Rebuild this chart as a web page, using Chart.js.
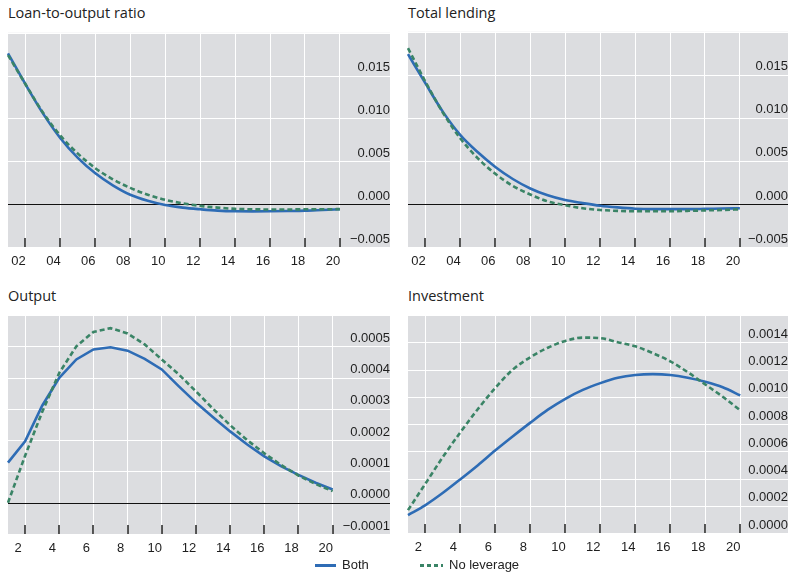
<!DOCTYPE html>
<html>
<head>
<meta charset="utf-8">
<script src="https://cdn.jsdelivr.net/npm/chart.js@4.4.1/dist/chart.umd.min.js"></script>
<style>
  html, body { margin: 0; padding: 0; background: #ffffff; }
  body { width: 789px; height: 575px; overflow: hidden; position: relative; font-family: "Liberation Sans", Arial, sans-serif; }
  .title { position: absolute; font-family: "Open Sans", sans-serif; font-size: 14.5px; line-height: 18px; color: #222; white-space: nowrap; }
  .box { position: absolute; }
  canvas { display: block; }
  .leg { position: absolute; font-size: 13px; line-height: 16px; color: #222; white-space: nowrap; display: flex; align-items: center; }
  .sw { display: inline-block; width: 21px; height: 3px; margin-right: 6px; }
  .sw.solid { background: #2e6cb5; }
  .sw.dash { width: 23px; background: repeating-linear-gradient(90deg, #3a8466 0 4px, transparent 4px 7px); }
</style>
</head>
<body>
<div class="title" style="left:8px;top:4px">Loan-to-output ratio</div>
<div class="title" style="left:408px;top:4px">Total lending</div>
<div class="title" style="left:8px;top:287px">Output</div>
<div class="title" style="left:408px;top:287px">Investment</div>

<div class="box" style="left:0;top:20px"><canvas id="c1" width="392" height="260"></canvas></div>
<div class="box" style="left:400px;top:20px"><canvas id="c2" width="389" height="260"></canvas></div>
<div class="box" style="left:0;top:300px"><canvas id="c3" width="392" height="262"></canvas></div>
<div class="box" style="left:400px;top:300px"><canvas id="c4" width="389" height="262"></canvas></div>

<div class="leg" style="left:315px;top:557px"><span class="sw solid"></span>Both</div>
<div class="leg" style="left:420px;top:557px"><span class="sw dash"></span>No leverage</div>

<script>
// ---------- data ----------
const periods = [1,2,3,4,5,6,7,8,9,10,11,12,13,14,15,16,17,18,19,20];
const topTickLabels = ['02','04','06','08','10','12','14','16','18','20'];
const bottomTickLabels = ['2','4','6','8','10','12','14','16','18','20'];

const loanBoth = [0.0176,0.0140,0.0106,0.0077,0.0054,0.0036,0.0022,0.0011,0.0004,-0.0001,-0.0004,-0.0006,-0.00076,-0.00083,-0.00084,-0.00083,-0.0008,-0.00076,-0.00068,-0.0006];
const loanNoLev = [0.0174,0.0140,0.0107,0.0080,0.0059,0.0042,0.0029,0.0019,0.0011,0.0005,0.0001,-0.0002,-0.0004,-0.00055,-0.0006,-0.00062,-0.00062,-0.0006,-0.0006,-0.00058];

const lendBoth = [0.0174,0.0140,0.0107,0.0080,0.0060,0.0043,0.0029,0.0018,0.0010,0.00045,0.0001,-0.0002,-0.0004,-0.00055,-0.0006,-0.0006,-0.0006,-0.00057,-0.00053,-0.0005];
const lendNoLev = [0.0181,0.0142,0.0106,0.0076,0.0053,0.0035,0.0021,0.0011,0.0003,-0.00015,-0.0005,-0.0007,-0.0008,-0.00085,-0.00085,-0.00085,-0.0008,-0.00075,-0.0007,-0.00062];

const outBoth = [0.000128,0.000196,0.00031,0.000399,0.000458,0.00049,0.000497,0.000486,0.00046,0.000426,0.000372,0.00032,0.000273,0.000228,0.000186,0.000148,0.000116,0.000089,0.000064,0.000042];
const outNoLev = [0.0,0.00015,0.00029,0.000415,0.0005,0.000546,0.000558,0.000541,0.000506,0.000458,0.00041,0.000356,0.0003,0.000248,0.0002,0.000158,0.00012,0.000087,0.00006,0.000037];

const invBoth = [0.000132,0.000205,0.000295,0.000395,0.000498,0.000607,0.00071,0.00081,0.000905,0.000985,0.00105,0.0011,0.00114,0.00116,0.001166,0.00116,0.00114,0.00111,0.00107,0.00101];
const invNoLev = [0.000168,0.000363,0.000559,0.00074,0.00091,0.001066,0.0012,0.00129,0.00136,0.00141,0.001434,0.00143,0.0014,0.00137,0.00132,0.00126,0.00118,0.00109,0.001,0.0009];

// ---------- style ----------
const BLUE = '#2e6cb5';
const GREEN = '#3a8466';
const BG = '#dcdde0';
const TICK_FONT = { family: 'Arial, "Liberation Sans", sans-serif', size: 13 };

const panelPlugin = {
  id: 'panelPlugin',
  beforeDraw(chart) {
    const { ctx, chartArea, scales } = chart;
    const y = scales.y;
    const right = y.right;
    ctx.save();
    ctx.fillStyle = BG;
    ctx.fillRect(chartArea.left, chartArea.top, right - chartArea.left, chartArea.bottom - chartArea.top);
    ctx.strokeStyle = '#ffffff';
    ctx.lineWidth = 1;
    y.ticks.forEach(t => {
      const py = Math.round(y.getPixelForValue(t.value)) + 0.5;
      ctx.beginPath();
      ctx.moveTo(chartArea.left, py);
      ctx.lineTo(right, py);
      ctx.stroke();
    });
    ctx.restore();
  },
  beforeDatasetsDraw(chart) {
    const { ctx, chartArea, scales } = chart;
    const x = scales.x, y = scales.y;
    ctx.save();
    if (y.min < 0) {
      const py = Math.round(y.getPixelForValue(0)) + 0.5;
      ctx.strokeStyle = '#111111';
      ctx.lineWidth = 1;
      ctx.beginPath();
      ctx.moveTo(chartArea.left, py);
      ctx.lineTo(y.right, py);
      ctx.stroke();
    }
    ctx.strokeStyle = '#222222';
    ctx.lineWidth = 1.5;
    for (let i = 1; i < x.ticks.length; i += 2) {
      const px = Math.round(x.getPixelForTick(i));
      ctx.beginPath();
      ctx.moveTo(px, chartArea.bottom);
      ctx.lineTo(px, chartArea.bottom - 9);
      ctx.stroke();
    }
    ctx.restore();
  }
};

function fmt(v, dec) {
  if (Math.abs(v) < 1e-12) v = 0;
  return v.toFixed(dec).replace('-', '\u2212');
}

function makeChart(id, both, noLev, tickLabels, yMin, yMax, yStep, dec, pad, xAxisH, yPad, smooth) {
  const interp = smooth ? { cubicInterpolationMode: 'monotone' } : { tension: 0 };
  new Chart(document.getElementById(id), {
    type: 'line',
    data: {
      labels: periods,
      datasets: [
        Object.assign({ label: 'Both', data: both, borderColor: BLUE, borderWidth: 2.6, pointRadius: 0, fill: false, order: 2 }, interp),
        Object.assign({ label: 'No leverage', data: noLev, borderColor: GREEN, borderWidth: 2.6, borderDash: [5, 3], pointRadius: 0, fill: false, order: 1 }, interp)
      ]
    },
    options: {
      responsive: false,
      animation: false,
      devicePixelRatio: 1,
      layout: { padding: pad },
      plugins: { legend: { display: false }, tooltip: { enabled: false }, title: { display: false } },
      scales: {
        x: {
          type: 'category',
          border: { display: false },
          grid: {
            color: ctx => (ctx.index % 2 === 1 ? '#ffffff' : 'rgba(0,0,0,0)'),
            lineWidth: 1,
            drawTicks: false
          },
          ticks: {
            autoSkip: false,
            maxRotation: 0,
            minRotation: 0,
            padding: 7,
            labelOffset: -7,
            color: '#1e1e1e',
            font: TICK_FONT,
            callback: (value, index) => (index % 2 === 1 ? tickLabels[(index - 1) / 2] : '')
          },
          afterFit: s => { s.height = xAxisH; }
        },
        y: {
          position: 'right',
          min: yMin,
          max: yMax,
          border: { display: false },
          grid: { display: false, drawTicks: false },
          ticks: {
            stepSize: yStep,
            crossAlign: 'far',
            padding: yPad,
            labelOffset: -8,
            color: '#1e1e1e',
            font: TICK_FONT,
            callback: v => (v >= yMax - yStep * 0.01 ? '' : fmt(v, dec))
          }
        }
      }
    },
    plugins: [panelPlugin]
  });
}

makeChart('c1', loanBoth, loanNoLev, topTickLabels, -0.005, 0.020, 0.005, 3, { left: 8, top: 9, right: 2, bottom: 0 }, 33, 5, true);
makeChart('c2', lendBoth, lendNoLev, topTickLabels, -0.005, 0.020, 0.005, 3, { left: 8, top: 9, right: 1, bottom: 0 }, 33, 4, true);
makeChart('c3', outBoth, outNoLev, bottomTickLabels, -0.0001, 0.0006, 0.0001, 4, { left: 8, top: 15, right: 2, bottom: 0 }, 28, 5, false);
makeChart('c4', invBoth, invNoLev, bottomTickLabels, 0, 0.0016, 0.0002, 4, { left: 8, top: 15, right: 1, bottom: 0 }, 29, 4, true);
</script>
</body>
</html>
